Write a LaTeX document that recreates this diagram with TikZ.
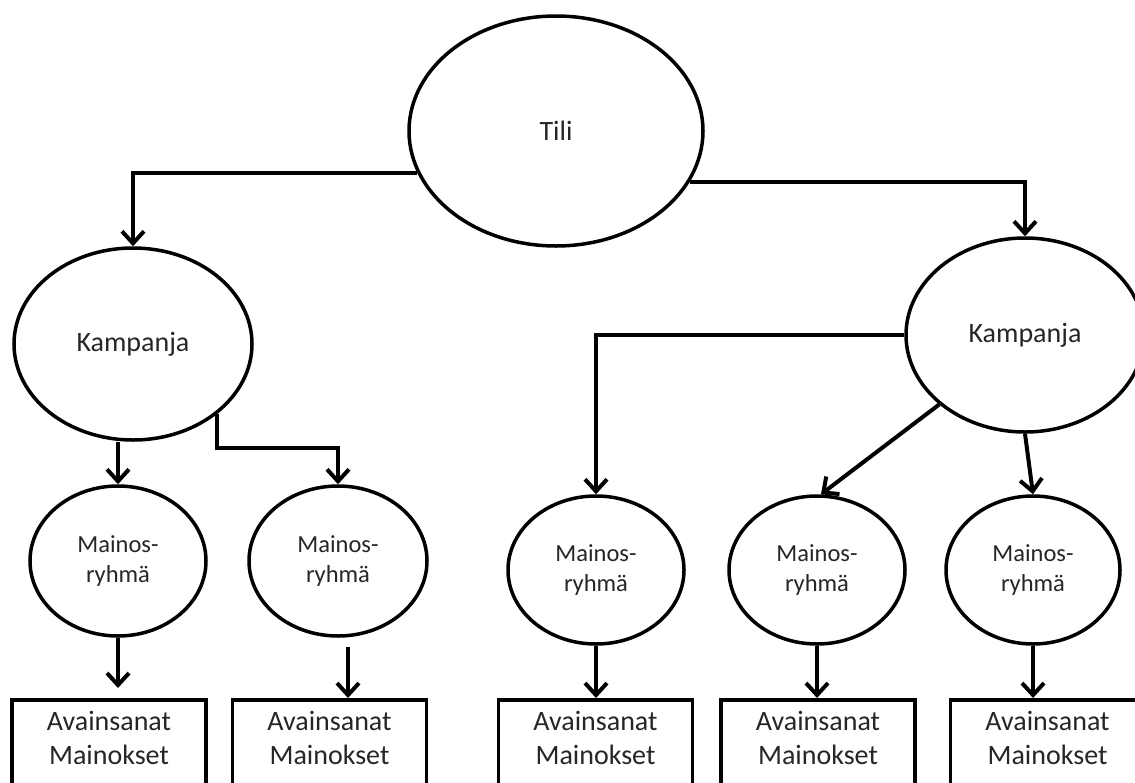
\documentclass[tikz,border=0pt]{standalone}
\usepackage{fontspec}
\setmainfont{Carlito}
\usetikzlibrary{shapes.geometric,arrows.meta,calc}
\tikzset{
  oval/.style={draw, ellipse, line width=3.5pt, inner sep=0pt, text=black!85},
  bigtext/.style={font=\fontsize{28}{34}\selectfont},
  smalltext/.style={font=\fontsize{24.5}{30}\selectfont, align=center},
  boxnode/.style={draw, rectangle, line width=3.5pt, minimum width=194pt, anchor=north,
    inner xsep=0pt, inner ysep=7pt, align=center, text height=58pt, text depth=150pt,
    font=\fontsize{28}{34}\selectfont, text=black!85},
  arr/.style={line width=4pt, -{Straight Barb[length=12pt,width=22pt]}},
}
\begin{document}
\begin{tikzpicture}[x=1pt,y=-1pt]
\clip (0,0) rectangle (1135,782);
\fill[white] (0,0) rectangle (1135,782);
% ellipses
\node[oval, bigtext, minimum width=294pt, minimum height=230pt] (tili) at (556,131) {Tili};
\node[oval, bigtext, minimum width=238pt, minimum height=192pt] (kL) at (133,344) {Kampanja};
\node[oval, bigtext, minimum width=238pt, minimum height=194pt] (kR) at (1025,335) {Kampanja};
\node[oval, smalltext, minimum width=176pt, minimum height=150pt] (m1) at (118,561) {Mainos-\\ryhmä};
\node[oval, smalltext, minimum width=178pt, minimum height=150pt] (m2) at (338,561) {Mainos-\\ryhmä};
\node[oval, smalltext, minimum width=176pt, minimum height=148pt] (m3) at (596,570) {Mainos-\\ryhmä};
\node[oval, smalltext, minimum width=176pt, minimum height=148pt] (m4) at (817,570) {Mainos-\\ryhmä};
\node[oval, smalltext, minimum width=174pt, minimum height=148pt] (m5) at (1033,570) {Mainos-\\ryhmä};
% boxes
\node[boxnode] (b1) at (109,698) {Avainsanat\\Mainokset};
\node[boxnode] (b2) at (329.5,698) {Avainsanat\\Mainokset};
\node[boxnode] (b3) at (595.5,698) {Avainsanat\\Mainokset};
\node[boxnode] (b4) at (818,698) {Avainsanat\\Mainokset};
\node[boxnode] (b5) at (1047.5,698) {Avainsanat\\Mainokset};
% connectors
\draw[arr] (tili.197) -| (kL.north);
\draw[arr] (tili.-21.5) -| (kR.north);
\draw[arr] (m1.north |- kL.south) -- (m1.north);
\draw[arr] (kL.-40) -- ++(0,34) -| (m2.north);
\draw[arr] (kR.west) -| (m3.north);
\draw[arr] (kR.219) -- (m4.87);
\draw[arr] (kR.south) -- (m5.north);
\draw[arr] (m1.south) -- ($(m1.south |- b1.north)+(0,-10)$);
\draw[arr] ($(m2.south)+(10,9)$) -- ($(m2.south |- b2.north)+(10,0)$);
\draw[arr] (m3.south) -- (m3.south |- b3.north);
\draw[arr] (m4.south) -- (m4.south |- b4.north);
\draw[arr] (m5.south) -- (m5.south |- b5.north);
\end{tikzpicture}
\end{document}
